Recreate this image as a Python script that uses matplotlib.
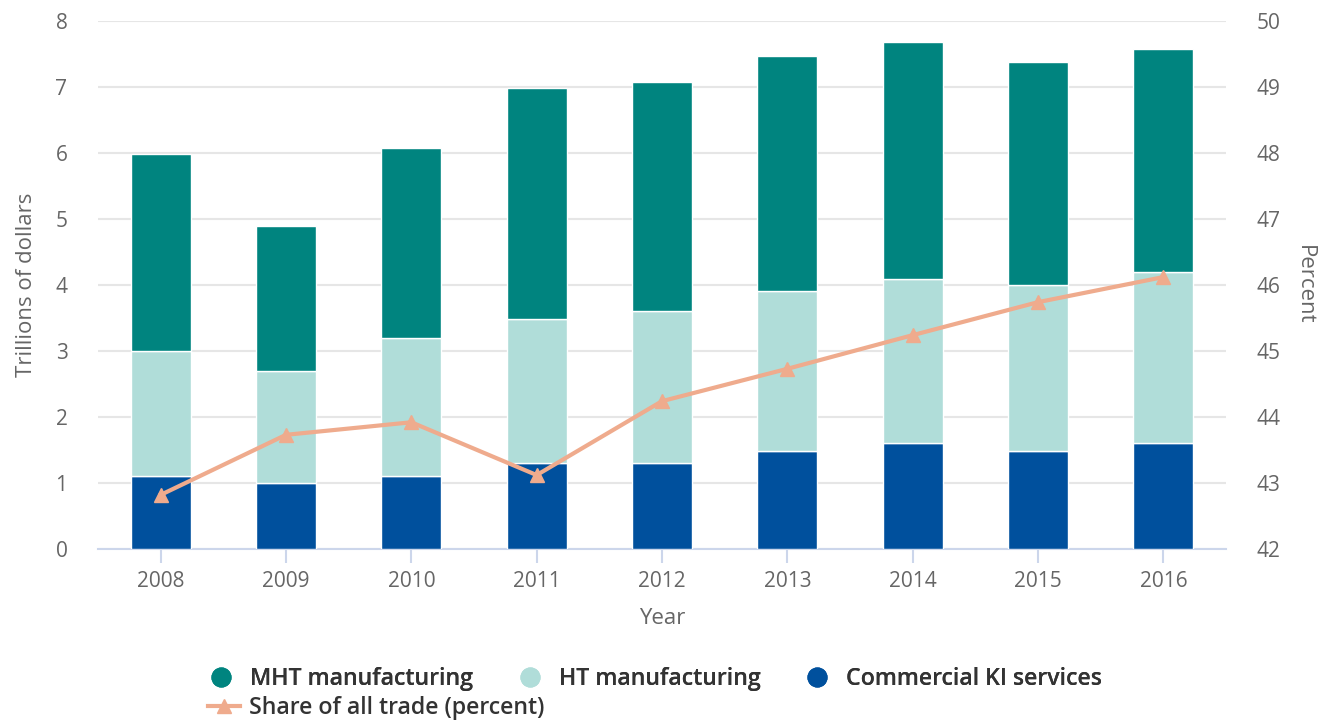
import numpy as np
import matplotlib.pyplot as plt
from matplotlib.lines import Line2D

plt.rcParams['font.family'] = ['Open Sans', 'DejaVu Sans']

years = ['2008', '2009', '2010', '2011', '2012', '2013', '2014', '2015', '2016']
ki_services = [1.1, 1.0, 1.1, 1.3, 1.3, 1.48, 1.6, 1.48, 1.6]
ht_manuf = [1.9, 1.7, 2.1, 2.18, 2.3, 2.43, 2.49, 2.52, 2.6]
mht_manuf = [2.98, 2.19, 2.87, 3.5, 3.47, 3.56, 3.59, 3.38, 3.38]
share_pct = [42.82, 43.73, 43.92, 43.12, 44.24, 44.73, 45.24, 45.74, 46.12]

c_mht = '#00847f'
c_ht = '#b0ddd9'
c_ki = '#00509d'
c_line = '#efab8d'
grey = '#666666'

fig = plt.figure(figsize=(13.3, 7.21), dpi=100)
ax = fig.add_axes([98 / 1330, 1 - 549 / 721, 1128 / 1330, 528 / 721])
ax2 = ax.twinx()

x = np.arange(len(years))
w = 0.48
ki = np.array(ki_services)
ht = np.array(ht_manuf)
mht = np.array(mht_manuf)
ax.bar(x, ki, w, color=c_ki, edgecolor='white', linewidth=1, zorder=3)
ax.bar(x, ht, w, bottom=ki, color=c_ht, edgecolor='white', linewidth=1, zorder=3)
ax.bar(x, mht, w, bottom=ki + ht, color=c_mht, edgecolor='white', linewidth=1, zorder=3)

ax2.plot(x, share_pct, color=c_line, linewidth=3, marker='^', markersize=10,
         markeredgecolor=c_line, zorder=5)

ax.set_xlim(-0.5, len(years) - 0.5)
ax.set_ylim(0, 8)
ax2.set_ylim(42, 50)
ax.set_yticks(range(0, 9))
ax2.set_yticks(range(42, 51))
ax.set_xticks(x)
ax.set_xticklabels(years)

ax.grid(axis='y', color='#e6e6e6', linewidth=1.5, zorder=0)
ax.set_axisbelow(True)
for a in (ax, ax2):
    for s in ('top', 'right', 'left'):
        a.spines[s].set_visible(False)
ax2.spines['bottom'].set_visible(False)
ax.spines['bottom'].set_color('#ccd6eb')
ax.spines['bottom'].set_linewidth(1.5)

ax.tick_params(axis='x', colors='#ccd6eb', length=10, width=1.5, labelcolor=grey,
               labelsize=15, pad=6)
ax.tick_params(axis='y', length=0, labelcolor=grey, labelsize=15, pad=22)
ax2.tick_params(axis='y', length=0, labelcolor=grey, labelsize=15, pad=22)

ax.set_xlabel('Year', fontsize=16, color=grey, labelpad=11)
ax.set_ylabel('Trillions of dollars', fontsize=16, color=grey, labelpad=13)
ax2.set_ylabel('Percent', fontsize=16, color=grey, rotation=270, labelpad=25)

# legend: first row of three bar series, second row for the line
lprop = dict(size=16.7, weight='semibold')
handles = [Line2D([], [], linestyle='none', marker='o', markersize=13.5, color=c)
           for c in (c_mht, c_ht, c_ki)]
leg1 = fig.legend(handles, ['MHT manufacturing', 'HT manufacturing', 'Commercial KI services'],
                  loc='center left', bbox_to_anchor=(207 / 1330, 1 - 679 / 721), ncol=3,
                  frameon=False, prop=lprop, handletextpad=0.65,
                  columnspacing=1.85, handlelength=1.2, borderaxespad=0, borderpad=0)
for t in leg1.get_texts():
    t.set_color('#333333')
fig.add_artist(leg1)
lh = [Line2D([], [], color=c_line, linewidth=3, marker='^', markersize=10)]
leg2 = fig.legend(lh, ['Share of all trade (percent)'], loc='center left',
                  bbox_to_anchor=(208 / 1330, 1 - 708 / 721), frameon=False,
                  prop=lprop, handletextpad=0.42,
                  handlelength=1.36, borderaxespad=0, borderpad=0)
for t in leg2.get_texts():
    t.set_color('#333333')

fig.savefig('out.png', dpi=100)
